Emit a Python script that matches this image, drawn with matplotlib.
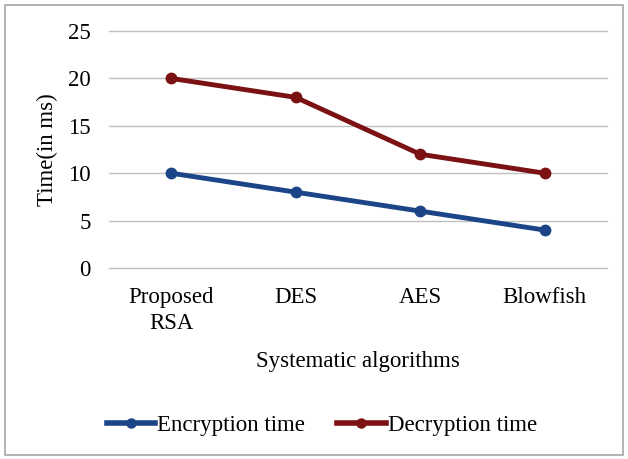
import matplotlib.pyplot as plt
import matplotlib.patches as patches
from matplotlib.lines import Line2D

# data
algorithms = ['Proposed\nRSA', 'DES', 'AES', 'Blowfish']
encryption_time = [10, 8, 6, 4]
decryption_time = [20, 18, 12, 10]
yticks = [0, 5, 10, 15, 20, 25]

blue = '#1c4587'
red = '#7b1113'
fs = 16.5

plt.rcParams['font.family'] = ['Liberation Serif', 'DejaVu Serif']

fig = plt.figure(figsize=(6.28, 4.59), dpi=100)
ax = fig.add_axes([109 / 628, 1 - 268 / 459, 498 / 628, 237 / 459])

x = list(range(len(algorithms)))
ax.plot(x, encryption_time, color=blue, lw=3.5, marker='o', ms=7.5, label='Encryption time', zorder=3)
ax.plot(x, decryption_time, color=red, lw=3.5, marker='o', ms=7.5, label='Decryption time', zorder=3)

ax.set_xlim(-0.5, 3.5)
ax.set_ylim(0, 25)
ax.set_yticks(yticks)
ax.set_xticks(x)
ax.set_xticklabels(algorithms, linespacing=1.3)
ax.tick_params(length=0, labelsize=fs)
ax.tick_params(axis='y', pad=13)
ax.tick_params(axis='x', pad=14)
for gl in ax.get_ygridlines():
    gl.set_clip_on(False)
ax.grid(axis='y', color='#bfbfbf', lw=1)
for gl in ax.get_ygridlines():
    gl.set_clip_on(False)
ax.set_axisbelow(True)
for s in ax.spines.values():
    s.set_visible(False)

fig.text(47 / 628, 1 - 150 / 459, 'Time(in ms)', rotation=90, fontsize=fs,
         ha='center', va='center')
fig.text(358 / 628, 1 - 362 / 459, 'Systematic algorithms', fontsize=fs,
         ha='center', va='center')

handles = [Line2D([], [], color=blue, lw=4, marker='o', ms=6.5),
           Line2D([], [], color=red, lw=4, marker='o', ms=6.5)]
fig.legend(handles, ['Encryption time', 'Decryption time'], loc='center',
           bbox_to_anchor=(322 / 628, 1 - 425 / 459), ncol=2, frameon=False,
           fontsize=fs, handlelength=2.1, handletextpad=0.1, columnspacing=1.4)

# outer border
fig.patches.append(patches.Rectangle((5 / 628, 4 / 459), 618 / 628, 450 / 459,
                                     transform=fig.transFigure, fill=False,
                                     edgecolor='#a6a6a6', lw=1.2))

fig.savefig('out.png', dpi=100)
